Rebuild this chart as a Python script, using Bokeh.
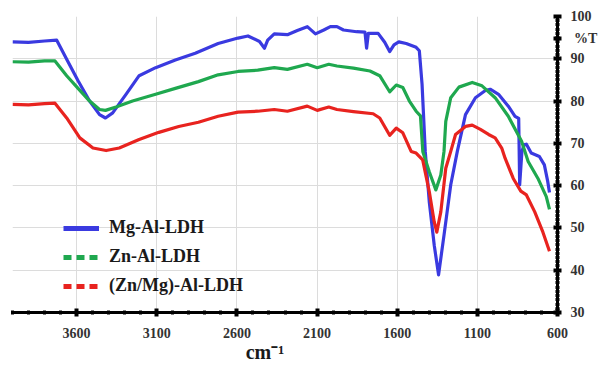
from bokeh.plotting import figure
from bokeh.models import (Range1d, FixedTicker, SingleIntervalTicker, Legend, LegendItem)
from bokeh.embed import file_html
from bokeh.resources import INLINE

# ---------------- data ----------------
series_names = ["Mg-Al-LDH", "Zn-Al-LDH", "(Zn/Mg)-Al-LDH"]

mg_wn = [4000, 3900, 3800, 3724, 3662, 3591, 3519, 3457, 3420, 3375, 3292, 3210, 3107, 2984, 2860,
         2717, 2593, 2531, 2459, 2428, 2408, 2367, 2285, 2223, 2161, 2110, 2058, 2017, 1976, 1935,
         1853, 1801, 1791, 1780, 1719, 1678, 1647, 1620, 1590, 1544, 1482, 1462, 1445, 1425, 1400,
         1369, 1342, 1308, 1266, 1225, 1174, 1112, 1050, 1020, 968, 907, 865, 842, 836, 822, 808,
         794, 764, 713, 682, 661, 650]
mg_t = [94.0, 93.9, 94.2, 94.4, 89.9, 84.8, 80.0, 76.8, 76.0, 77.2, 81.6, 86.0, 87.9, 89.7, 91.3,
        93.6, 94.9, 95.4, 94.1, 92.5, 94.4, 95.9, 95.7, 96.7, 97.6, 95.9, 96.8, 97.6, 97.6, 96.8,
        96.4, 96.3, 92.5, 96.0, 96.0, 93.9, 91.7, 93.3, 94.0, 93.6, 92.7, 91.9, 84.0, 68.1, 56.2,
        45.9, 38.9, 48.3, 60.2, 68.1, 76.8, 80.8, 82.5, 82.8, 81.6, 78.8, 76.4, 75.9, 60.2, 68.1, 69.7,
        69.8, 67.7, 66.9, 64.9, 61.0, 58.4]

zn_wn = [4000, 3900, 3800, 3735, 3662, 3591, 3519, 3457, 3420, 3354, 3251, 3107, 2984, 2840, 2717,
         2593, 2470, 2367, 2285, 2161, 2099, 2027, 1976, 1873, 1770, 1709, 1647, 1606, 1565, 1524,
         1482, 1455, 1440, 1400, 1359, 1328, 1308, 1297, 1266, 1215, 1132, 1071, 989, 907, 824, 783,
         722, 670, 650]
zn_t = [89.3, 89.2, 89.5, 89.5, 86.0, 83.0, 80.0, 78.0, 77.8, 78.6, 80.0, 81.6, 83.0, 84.6, 86.2,
        87.0, 87.3, 87.9, 87.5, 88.7, 87.9, 88.7, 88.3, 87.8, 87.1, 86.0, 82.2, 83.8, 83.2, 80.0,
        77.6, 76.5, 68.0, 63.3, 59.0, 62.5, 68.1, 75.2, 80.8, 83.3, 84.4, 83.6, 80.8, 76.4, 70.5, 65.7,
        61.7, 57.4, 54.4]

znmg_wn = [4000, 3900, 3800, 3735, 3662, 3580, 3498, 3416, 3334, 3210, 3087, 2963, 2840, 2717, 2593,
           2470, 2367, 2285, 2161, 2099, 2027, 1976, 1873, 1750, 1709, 1647, 1606, 1565, 1513, 1482,
           1441, 1400, 1369, 1353, 1328, 1297, 1266, 1236, 1174, 1132, 1081, 1030, 989, 948, 927,
           876, 829, 794, 742, 691, 650]
znmg_t = [79.2, 79.1, 79.4, 79.5, 76.0, 71.3, 68.9, 68.3, 68.9, 70.9, 72.6, 74.0, 75.0, 76.4, 77.4,
          77.6, 78.0, 77.6, 78.8, 77.8, 78.6, 78.0, 77.5, 77.0, 76.0, 71.9, 73.6, 72.5, 68.1, 67.7,
          66.1, 58.6, 51.4, 49.0, 53.8, 64.1, 68.1, 72.1, 74.0, 74.3, 73.3, 72.1, 71.3, 68.9, 66.5,
          61.7, 58.7, 57.8, 53.8, 49.0, 44.5]

x_major_ticks = [3600, 3100, 2600, 2100, 1600, 1100, 600]
x_minor_ticks = list(range(700, 4001, 100))
y_major_ticks = [30, 40, 50, 60, 70, 80, 90, 100]
y_minor_ticks = list(range(30, 101))
y_label = "%T"
x_label = "cm\u207b\u00b9"

colors = ["#3a3ae0", "#1fa84f", "#e8231f"]

# layout constant: the unit text sits on the right axis just below the top tick label
UNIT_LABEL_AT = 94.8

# ---------------- figure ----------------
FONT = "Liberation Serif"
p = figure(width=600, height=365, output_backend="svg", toolbar_location=None,
           x_range=Range1d(4000, 600), y_range=Range1d(30, 100),
           y_axis_location="right",
           min_border_left=12, min_border_right=30, min_border_top=16, min_border_bottom=50)
p.outline_line_color = None
p.background_fill_color = "white"
p.border_fill_color = "white"

all_wn = [mg_wn, zn_wn, znmg_wn]
all_t = [mg_t, zn_t, znmg_t]
for wn, t, c in zip(all_wn, all_t, colors):
    p.line(wn, t, line_color=c, line_width=3.2, line_join="round")

xax = p.xaxis[0]
xax.ticker = FixedTicker(ticks=x_major_ticks, minor_ticks=x_minor_ticks)
yax = p.yaxis[0]
yax.ticker = FixedTicker(ticks=y_major_ticks + [UNIT_LABEL_AT], minor_ticks=y_minor_ticks)
yax.major_label_overrides = {UNIT_LABEL_AT: "\u00a0" + y_label}

for ax in (xax, yax):
    ax.axis_line_width = 3
    ax.axis_line_color = "black"
    ax.major_tick_in = 4
    ax.major_tick_out = 4
    ax.major_tick_line_width = 4
    ax.minor_tick_in = 2
    ax.minor_tick_out = 2
    ax.minor_tick_line_width = 3
    ax.major_label_text_font = FONT
    ax.major_label_text_font_style = "bold"
    ax.major_label_text_font_size = "14px"
    ax.major_label_text_color = "#333333"
xax.major_label_standoff = 11
yax.major_label_standoff = 9

xax.axis_label = x_label + "\u00a0" * 8
xax.axis_label_text_font = FONT
xax.axis_label_text_font_style = "bold"
xax.axis_label_text_font_size = "20px"
xax.axis_label_text_color = "#1a1a1a"
xax.axis_label_standoff = 0

p.xgrid.grid_line_color = "#dcdcdc"
p.ygrid.grid_line_color = "#dcdcdc"
p.ygrid.ticker = SingleIntervalTicker(interval=10)
p.xgrid.grid_line_width = 1
p.ygrid.grid_line_width = 1

# legend with dashed samples (single-point lines draw nothing in the plot)
dashes = ["solid", "8 5", "8 5"]
items = []
for name, c, d, wn, t in zip(series_names, colors, dashes, all_wn, all_t):
    r = p.line(x=wn[:1], y=t[:1], line_color=c, line_width=5, line_dash=d)
    items.append(LegendItem(label=name, renderers=[r]))
legend = Legend(items=items, location=(51, 16), padding=0, margin=0, spacing=8,
                glyph_width=36, glyph_height=20, label_height=20, label_standoff=10,
                label_text_font=FONT, label_text_font_style="bold", label_text_font_size="18px",
                label_text_color="#1a1a1a",
                background_fill_alpha=0, border_line_alpha=0)
p.add_layout(legend, "center")

open("out.html", "w").write(file_html(p, INLINE))
